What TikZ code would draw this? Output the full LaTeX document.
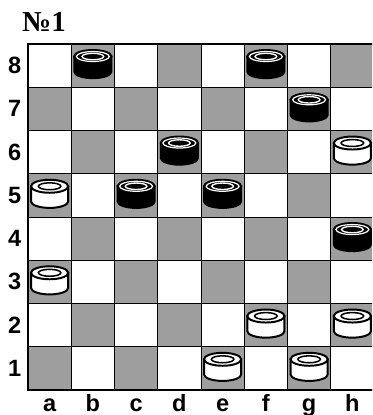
\documentclass[tikz,border=0pt]{standalone}
\usepackage{fontspec}
\setmainfont{Liberation Sans}
\newfontfamily\titlefont{Liberation Serif}
\begin{document}
\begin{tikzpicture}
\definecolor{dotgray}{RGB}{158,158,158}
\tikzset{
	coord/.style={font=\bfseries\fontsize{15.5}{18}\selectfont, inner sep=0pt},
	whiteman/.pic={
		\filldraw[fill=white,line width=1.3pt] (-0.43,0.21)--(-0.43,-0.14) arc(180:360:0.43 and 0.15)--(0.43,0.21)--cycle;
		\filldraw[fill=white,line width=1.3pt] (0,0.21) ellipse (0.43 and 0.15);
		\draw[line width=1pt] (0,0.21) ellipse (0.26 and 0.08);
	},
	blackman/.pic={
		\filldraw[fill=black,line width=1.3pt] (-0.43,0.21)--(-0.43,-0.14) arc(180:360:0.43 and 0.15)--(0.43,0.21)--cycle;
		\filldraw[fill=black,line width=1.3pt] (0,0.21) ellipse (0.43 and 0.15);
		\draw[white,line width=0.8pt] (0,0.21) ellipse (0.38 and 0.115);
		\draw[white,line width=0.9pt] (0,0.21) ellipse (0.25 and 0.075);
	}
}
	\useasboundingbox (-0.647,-0.578) rectangle (7.954,9.017);
	\clip (-0.647,-0.578) rectangle (7.954,9.017);

	% dark squares
	\foreach \i [evaluate=\i as \s using {int(mod(\i,2))}] in {0,...,7}
		\foreach \j in {0,2,4,6}
			\fill[dotgray] (\i,\j+\s) rectangle +(1,1);
	\draw[line width=0.5pt] (0,0) grid (8,8);
	\draw[line width=0.9pt] (8,0)--(0,0)--(0,8)--(8,8);

	% black men
	\foreach \p in {(1.5,7.5),(5.5,7.5),(6.5,6.5),(3.5,5.5),(2.5,4.5),(4.5,4.5),(7.5,3.5)}
		\pic at \p {blackman};
	% white men
	\foreach \p in {(7.5,5.5),(0.5,4.5),(0.5,2.5),(5.5,1.5),(7.5,1.5),(4.5,0.5),(6.5,0.5)}
		\pic at \p {whiteman};

	% ranks and files
	\foreach \r in {1,...,8}
		\node[coord] (r\r) at (-0.31,\r-0.5) {\r};
	\foreach \f [count=\c] in {a,b,c,d,e,f,g,h}
		\node[coord,anchor=base,text depth=0pt] (f\f) at (\c-0.5,-0.5) {\f};

	\node[anchor=base west,inner sep=0pt,font=\titlefont\bfseries\fontsize{19}{22}\selectfont] (title) at (-0.14,8.28) {№1};
\end{tikzpicture}
\end{document}
